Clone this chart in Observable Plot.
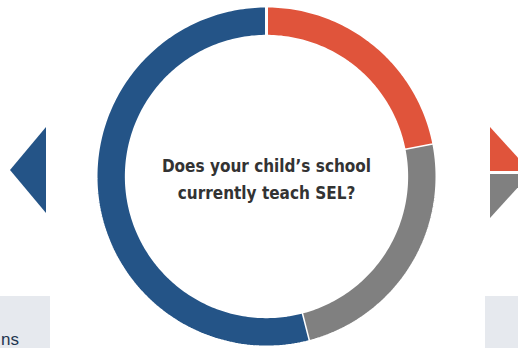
<!DOCTYPE html>
<html>
<head>
<meta charset="utf-8">
<script src="https://cdn.jsdelivr.net/npm/d3@7"></script>
<script src="https://cdn.jsdelivr.net/npm/@observablehq/plot@0.6"></script>
<style>
  html, body { margin: 0; padding: 0; background: #fff; }
  #wrap { position: relative; width: 518px; height: 348px; overflow: hidden; }
  #chart { position: absolute; left: 0; top: 0; }
  .box { position: absolute; background: #e6e9ee; }
  .arrow { position: absolute; }
  #ns { position: absolute; right: 499px; top: 333px; font: 17px "Liberation Sans", Arial, sans-serif; color: #1f3650; white-space: nowrap; line-height: 13px; height: 13px; }
</style>
</head>
<body>
<div id="wrap">
  <div class="box" style="left:0;top:296px;width:50px;height:52px"></div>
  <div class="box" style="left:485px;top:296px;width:33px;height:52px"></div>
  <div id="ns">ns</div>
  <svg class="arrow" style="left:0;top:0" width="518" height="348">
    <polygon points="10,170 46,127 46,213" fill="#245487"/>
    <polygon points="490,127 490,171 530,171" fill="#e0543b"/>
    <polygon points="490,174 490,218 530,174" fill="#808080"/>
  </svg>
  <div id="chart"></div>
</div>
<script>
const categories = ["Yes", "Not sure", "No"];
const shares = [22, 24, 54];
const colors = ["#e0543b", "#808080", "#245487"];
const title = "Does your child\u2019s school\ncurrently teach SEL?";

const innerRatio = 0.822;
const total = d3.sum(shares);
let acc = 0;
const points = [];
categories.forEach((c, i) => {
  const a0 = acc / total * 2 * Math.PI;
  acc += shares[i];
  const a1 = acc / total * 2 * Math.PI;
  const n = Math.max(8, Math.ceil((a1 - a0) / (Math.PI / 180)));
  for (let k = 0; k <= n; k++) {
    const a = a0 + (a1 - a0) * k / n;
    points.push({key: c, x: Math.sin(a), y: Math.cos(a)});
  }
  for (let k = n; k >= 0; k--) {
    const a = a0 + (a1 - a0) * k / n;
    points.push({key: c, x: innerRatio * Math.sin(a), y: innerRatio * Math.cos(a)});
  }
});

const chart = Plot.plot({
  width: 518,
  height: 348,
  margin: 0,
  style: {background: "transparent", overflow: "visible"},
  x: {domain: [-1, 1], range: [95.5, 436.5], axis: null},
  y: {domain: [-1, 1], range: [346.5, 5.5], axis: null},
  color: {domain: categories, range: colors},
  marks: [
    Plot.line(points, {x: "x", y: "y", z: "key", fill: "key", stroke: "white", strokeWidth: 3, strokeLinejoin: "miter", curve: "linear"}),
    Plot.text([title], {x: 0, y: 0, text: d => d, fontSize: 17, fontWeight: "bold", lineHeight: 1.6, fill: "#333333", fontFamily: "'Liberation Sans Narrow', 'DejaVu Sans Condensed', 'Roboto Condensed', Roboto, sans-serif"})
  ]
});
document.getElementById("chart").appendChild(chart);
</script>
</body>
</html>
